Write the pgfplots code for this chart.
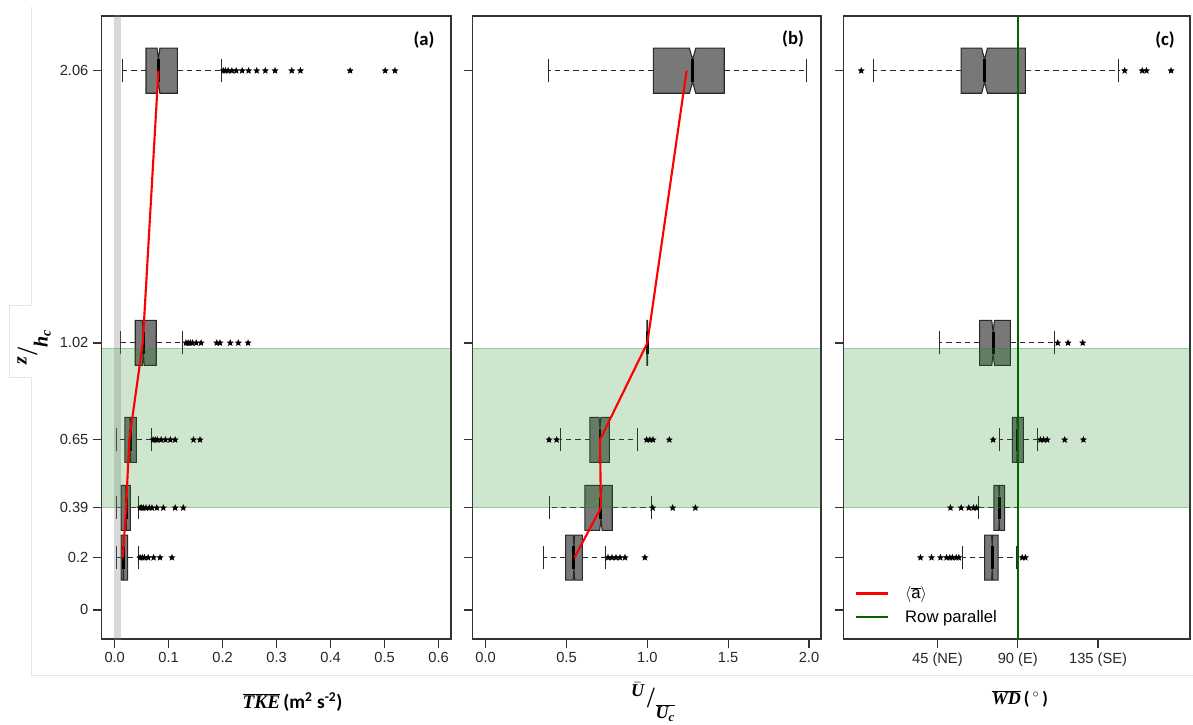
\documentclass[border=0pt]{standalone}
\usepackage{fontspec}
\setmainfont{Liberation Sans}
\newfontfamily\serifbi{Liberation Serif}
\newfontfamily\calib{Carlito}
\usepackage{graphicx}
\usepackage{pgfplots}
\pgfplotsset{compat=1.18}
\usepgfplotslibrary{statistics}
\usetikzlibrary{calc}

\definecolor{boxgray}{RGB}{120,120,120}
\definecolor{boxedge}{RGB}{40,40,40}
\definecolor{bandgreen}{RGB}{34,139,34}
\definecolor{rowgreen}{RGB}{0,100,0}

\pgfdeclareplotmark{fstar}{%
 \pgfpathmoveto{\pgfpointpolar{90}{\pgfplotmarksize}}%
 \pgfpathlineto{\pgfpointpolar{126}{0.45\pgfplotmarksize}}%
 \pgfpathlineto{\pgfpointpolar{162}{\pgfplotmarksize}}%
 \pgfpathlineto{\pgfpointpolar{198}{0.45\pgfplotmarksize}}%
 \pgfpathlineto{\pgfpointpolar{234}{\pgfplotmarksize}}%
 \pgfpathlineto{\pgfpointpolar{270}{0.45\pgfplotmarksize}}%
 \pgfpathlineto{\pgfpointpolar{306}{\pgfplotmarksize}}%
 \pgfpathlineto{\pgfpointpolar{342}{0.45\pgfplotmarksize}}%
 \pgfpathlineto{\pgfpointpolar{18}{\pgfplotmarksize}}%
 \pgfpathlineto{\pgfpointpolar{54}{0.45\pgfplotmarksize}}%
 \pgfpathclose\pgfusepathqfill}

\pgfplotsset{
  boxplot/draw/box/.code={%
    \draw[fill=boxgray, draw=boxedge, line width=0.8pt]
      (boxplot box cs:\pgfplotsboxplotvalue{lower quartile},0)
      -- (boxplot box cs:\pgfplotsboxplotvalue{lower quartile},1)
      -- ($(boxplot box cs:\pgfplotsboxplotvalue{median},1) + 0.045*(boxplot box cs:\pgfplotsboxplotvalue{lower quartile},1) - 0.045*(boxplot box cs:\pgfplotsboxplotvalue{upper quartile},1)$)
      -- (boxplot box cs:\pgfplotsboxplotvalue{median},0.75)
      -- ($(boxplot box cs:\pgfplotsboxplotvalue{median},1) - 0.045*(boxplot box cs:\pgfplotsboxplotvalue{lower quartile},1) + 0.045*(boxplot box cs:\pgfplotsboxplotvalue{upper quartile},1)$)
      -- (boxplot box cs:\pgfplotsboxplotvalue{upper quartile},1)
      -- (boxplot box cs:\pgfplotsboxplotvalue{upper quartile},0)
      -- ($(boxplot box cs:\pgfplotsboxplotvalue{median},0) - 0.045*(boxplot box cs:\pgfplotsboxplotvalue{lower quartile},0) + 0.045*(boxplot box cs:\pgfplotsboxplotvalue{upper quartile},0)$)
      -- (boxplot box cs:\pgfplotsboxplotvalue{median},0.25)
      -- ($(boxplot box cs:\pgfplotsboxplotvalue{median},0) + 0.045*(boxplot box cs:\pgfplotsboxplotvalue{lower quartile},0) - 0.045*(boxplot box cs:\pgfplotsboxplotvalue{upper quartile},0)$)
      -- cycle;
  },
  boxplot/draw/median/.code={%
    \draw[line width=2.2pt, black]
      (boxplot box cs:\pgfplotsboxplotvalue{median},0.25)
      -- (boxplot box cs:\pgfplotsboxplotvalue{median},0.75);
  },
  boxplot/draw/lower whisker/.code={%
    \draw[boxedge, line width=0.8pt, dash pattern=on 4pt off 3pt]
      (boxplot cs:\pgfplotsboxplotvalue{lower quartile})
      -- (boxplot cs:\pgfplotsboxplotvalue{lower whisker});
    \draw[boxedge, line width=0.8pt]
      (boxplot whisker cs:\pgfplotsboxplotvalue{lower whisker},0)
      -- (boxplot whisker cs:\pgfplotsboxplotvalue{lower whisker},1);
  },
  boxplot/draw/upper whisker/.code={%
    \draw[boxedge, line width=0.8pt, dash pattern=on 4pt off 3pt]
      (boxplot cs:\pgfplotsboxplotvalue{upper quartile})
      -- (boxplot cs:\pgfplotsboxplotvalue{upper whisker});
    \draw[boxedge, line width=0.8pt]
      (boxplot whisker cs:\pgfplotsboxplotvalue{upper whisker},0)
      -- (boxplot whisker cs:\pgfplotsboxplotvalue{upper whisker},1);
  },
  panel/.style={
    scale only axis, height=467.25pt, anchor=north west,
    ymin=-0.111, ymax=2.269,
    ytick={0,0.2,0.39,0.65,1.02,2.06},
    tick align=outside, xtick pos=bottom, ytick pos=left,
    major tick length=6.5pt,
    axis line style={line width=1pt, black!80},
    every tick/.style={line width=0.9pt, black!80},
    tick label style={font=\fontsize{11}{13}\selectfont, text=black!85},
    boxplot/draw direction=x,
    boxplot/box extend=0.172,
    boxplot/whisker extend=0.088,
  },
  outl/.style={only marks, mark=fstar, mark size=2.8pt, black},
  meanl/.style={red, line width=1.6pt, no markers},
}
\newcommand\bx[6]{\addplot[boxplot prepared={draw position=#1,lower whisker=#2,lower quartile=#3,median=#4,upper quartile=#5,upper whisker=#6}] coordinates {};}

\begin{document}
\begin{tikzpicture}
\useasboundingbox (0,0) rectangle (894.75pt,-543.75pt);
% faint composition frame
\draw[black!10, line width=0.6pt] (23.25pt,-5.25pt) -- (23.25pt,-228.75pt) -- (6.75pt,-228.75pt) -- (6.75pt,-282.75pt) -- (23.25pt,-282.75pt) -- (23.25pt,-506.25pt) -- (894.75pt,-506.25pt);

% ---------------- panel (a)
\begin{axis}[panel, at={(76.3pt,-12pt)}, width=262pt,
  xmin=-0.024, xmax=0.623,
  xtick={0,0.1,0.2,0.3,0.4,0.5,0.6},
  xticklabels={0.0,0.1,0.2,0.3,0.4,0.5,0.6},
  yticklabels={0,0.2,0.39,0.65,1.02,2.06}]
\bx{2.06}{0.014}{0.058}{0.081}{0.116}{0.197}
\bx{1.02}{0.011}{0.038}{0.053}{0.077}{0.126}
\bx{0.65}{0.004}{0.019}{0.029}{0.040}{0.069}
\bx{0.39}{0.004}{0.012}{0.021}{0.029}{0.044}
\bx{0.2}{0.004}{0.012}{0.016}{0.024}{0.044}
\addplot[outl] coordinates {(0.201,2.06)(0.205,2.06)(0.21,2.06)(0.217,2.06)(0.225,2.06)(0.236,2.06)(0.248,2.06)(0.263,2.06)(0.279,2.06)(0.297,2.06)(0.328,2.06)(0.344,2.06)(0.436,2.06)(0.501,2.06)(0.519,2.06)
 (0.132,1.02)(0.136,1.02)(0.14,1.02)(0.144,1.02)(0.151,1.02)(0.160,1.02)(0.189,1.02)(0.195,1.02)(0.214,1.02)(0.229,1.02)(0.247,1.02)
 (0.071,0.65)(0.075,0.65)(0.079,0.65)(0.086,0.65)(0.094,0.65)(0.103,0.65)(0.112,0.65)(0.146,0.65)(0.158,0.65)
 (0.047,0.39)(0.050,0.39)(0.053,0.39)(0.058,0.39)(0.064,0.39)(0.069,0.39)(0.078,0.39)(0.090,0.39)(0.112,0.39)(0.127,0.39)
 (0.047,0.2)(0.051,0.2)(0.055,0.2)(0.062,0.2)(0.072,0.2)(0.084,0.2)(0.106,0.2)};
\addplot[draw=bandgreen, draw opacity=0.3, line width=0.6pt, fill=bandgreen, fill opacity=0.22] coordinates {(-1,0.39)(1,0.39)(1,1.0)(-1,1.0)(-1,0.39)};
\addplot[draw=none, fill=gray, fill opacity=0.3] coordinates {(-0.001,-1)(0.011,-1)(0.011,3)(-0.001,3)};
\addplot[meanl] coordinates {(0.081,2.06)(0.052,1.02)(0.027,0.65)(0.021,0.39)(0.015,0.2)};
\end{axis}

% ---------------- panel (b)
\begin{axis}[panel, at={(354.2pt,-12pt)}, width=261.5pt,
  xmin=-0.083, xmax=2.074,
  xtick={0,0.5,1,1.5,2},
  xticklabels={0.0,0.5,1.0,1.5,2.0},
  yticklabels={}]
\bx{2.06}{0.387}{1.037}{1.28}{1.476}{1.986}
\bx{1.02}{0.995}{0.998}{1.0}{1.002}{1.005}
\bx{0.65}{0.460}{0.645}{0.707}{0.765}{0.938}
\bx{0.39}{0.393}{0.614}{0.713}{0.783}{1.023}
\bx{0.2}{0.356}{0.495}{0.546}{0.598}{0.742}
\addplot[outl] coordinates {(0.392,0.65)(0.439,0.65)(0.996,0.65)(1.016,0.65)(1.035,0.65)(1.136,0.65)
 (1.033,0.39)(1.157,0.39)(1.297,0.39)
 (0.757,0.2)(0.781,0.2)(0.806,0.2)(0.831,0.2)(0.862,0.2)(0.985,0.2)};
\addplot[draw=bandgreen, draw opacity=0.3, line width=0.6pt, fill=bandgreen, fill opacity=0.22] coordinates {(-1,0.39)(3,0.39)(3,1.0)(-1,1.0)(-1,0.39)};
\addplot[meanl] coordinates {(1.243,2.06)(1.0,1.02)(0.707,0.65)(0.713,0.39)(0.549,0.2)};
\end{axis}

% ---------------- panel (c)
\begin{axis}[panel, at={(632.5pt,-12pt)}, width=260pt,
  xmin=-7.7, xmax=186.5,
  xtick={45,90,135},
  xticklabels={45 (NE),90 (E),135 (SE)},
  yticklabels={},
  legend style={at={(0.02,0.015)}, anchor=south west, draw=none, fill=none,
    font=\fontsize{12.5}{15}\selectfont, row sep=3pt, cells={anchor=west}},
  legend image code/.code={\draw[#1] (0pt,0pt) -- (24pt,0pt); \path (34pt,0pt);}]
\addlegendimage{red, line width=2pt}
\addlegendentry{$\langle\overline{\mbox{a}}\rangle$}
\addlegendimage{rowgreen, line width=2pt}
\addlegendentry{Row parallel}
\bx{2.06}{9.0}{58.3}{71.4}{94.3}{146.6}
\bx{1.02}{46.2}{68.6}{76.2}{85.9}{110.4}
\bx{0.65}{79.6}{87.0}{89.7}{93.2}{100.9}
\bx{0.39}{67.8}{76.6}{79.6}{82.6}{89.8}
\bx{0.2}{59.0}{71.4}{75.7}{79.0}{89.3}
\addplot[outl] coordinates {(2.3,2.06)(149.9,2.06)(159.7,2.06)(162.1,2.06)(175.9,2.06)
 (112.4,1.02)(118.2,1.02)(126.4,1.02)
 (76.2,0.65)(102.7,0.65)(104.5,0.65)(106.5,0.65)(116.3,0.65)(126.8,0.65)
 (52.3,0.39)(58.3,0.39)(62.6,0.39)(65.2,0.39)(66.9,0.39)
 (35.5,0.2)(41.7,0.2)(46.7,0.2)(50.1,0.2)(52.0,0.2)(53.4,0.2)(55.5,0.2)(57.0,0.2)(92.5,0.2)(94.3,0.2)};
\addplot[draw=bandgreen, draw opacity=0.3, line width=0.6pt, fill=bandgreen, fill opacity=0.22] coordinates {(-20,0.39)(200,0.39)(200,1.0)(-20,1.0)(-20,0.39)};
\addplot[rowgreen, line width=1.6pt, no markers] coordinates {(90,-1)(90,3)};
\end{axis}

% panel tags
\node[font=\calib\bfseries\fontsize{14}{16}\selectfont] at (318pt,-30pt) {(a)};
\node[font=\calib\bfseries\fontsize{14}{16}\selectfont] at (594.75pt,-29.25pt) {(b)};
\node[font=\calib\bfseries\fontsize{14}{16}\selectfont] at (873.75pt,-30pt) {(c)};

% axis titles
\node[font=\fontsize{14.5}{16}\selectfont] at (219.4pt,-526.5pt)
  {$\overline{\mbox{\serifbi\bfseries\itshape TKE}}$\,{\calib\bfseries (m\textsuperscript{2} s\textsuperscript{-2})}};
\node[font=\fontsize{13.5}{15}\selectfont, inner sep=0pt] at (489.75pt,-526.5pt)
  {\raisebox{1.1ex}{$\bar{\mbox{\serifbi\bfseries\itshape U}}$}\kern2pt{\fontsize{22}{22}\selectfont\serifbi /}\kern0.5pt\raisebox{-1.2ex}{$\overline{\mbox{\serifbi\bfseries\itshape U\textsubscript{c}}}$}};
\node[font=\fontsize{13.5}{15}\selectfont] at (765pt,-524.25pt)
  {$\overline{\mbox{\serifbi\bfseries\itshape WD}}$\,{\calib\bfseries(\,$^\circ$\,)}};
\node[font=\fontsize{15}{17}\selectfont, rotate=90] at (25.5pt,-260.25pt)
  {\raisebox{1.0ex}{\serifbi\bfseries\itshape z}\kern0.5pt{\fontsize{22}{22}\selectfont\serifbi /}\kern0pt\raisebox{-1.0ex}{\serifbi\bfseries\itshape h\textsubscript{c}}};
\end{tikzpicture}
\end{document}
